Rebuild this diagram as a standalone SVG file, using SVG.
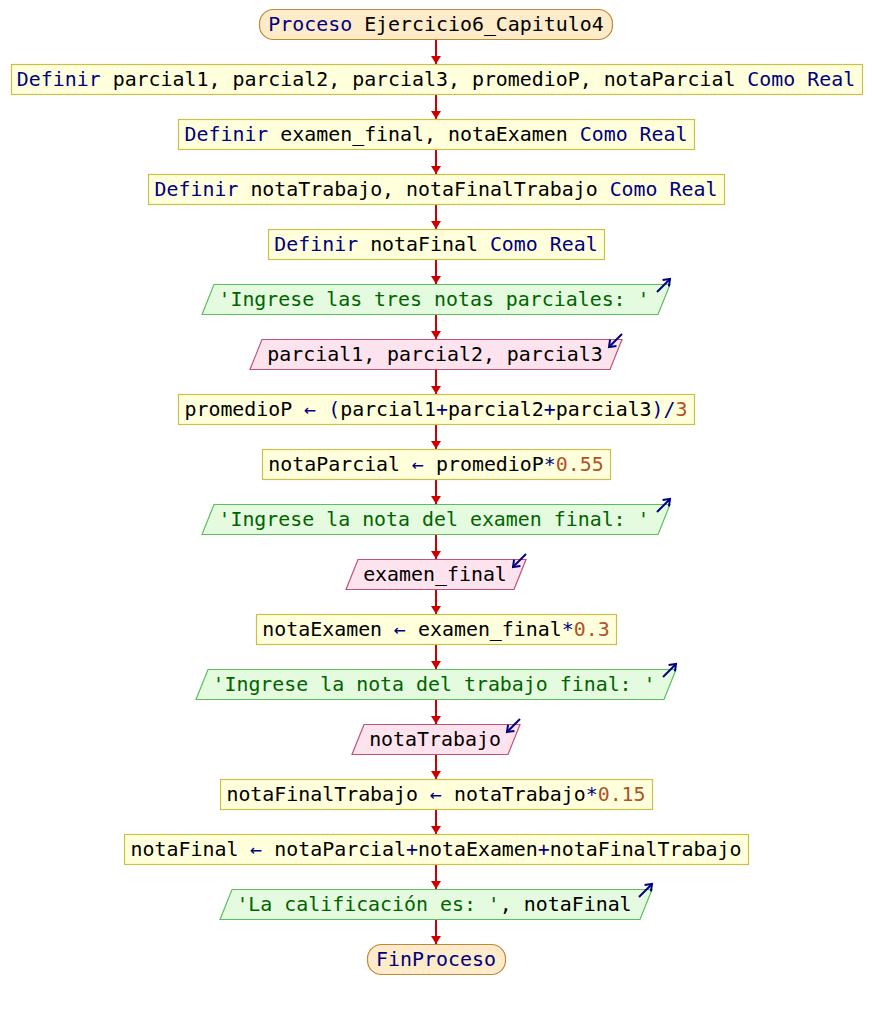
<svg xmlns="http://www.w3.org/2000/svg" width="872" height="1010" viewBox="0 0 872 1010">
  <style>
    text { font-family: "DejaVu Sans Mono", "Liberation Mono", monospace; font-size: 19.9px; fill: #000000; text-anchor: middle; white-space: pre; }
    .kw { fill: #000080; }
    .str { fill: #006400; }
    .num { fill: #b0522a; }
    .term { fill: #fdebc9; stroke: #c08838; stroke-width: 1.2; }
    .proc { fill: #ffffdc; stroke: #c8c048; stroke-width: 1.2; }
    .out { fill: #e4fbdf; stroke: #5cbf5c; stroke-width: 1.2; }
    .in { fill: #fde3ee; stroke: #c0507c; stroke-width: 1.2; }
    .icon { stroke: #000080; stroke-width: 2; fill: none; marker-end: url(#io); }
    .flow { stroke: #cc0000; stroke-width: 2; fill: none; marker-end: url(#ah); }
  </style>
  <defs>
    <marker id="ah" markerUnits="userSpaceOnUse" markerWidth="8" markerHeight="10" refX="8" refY="5" orient="auto">
      <path d="M0,0 L8,5 L0,10 z" fill="#cc0000"/>
    </marker>
    <marker id="io" markerUnits="userSpaceOnUse" markerWidth="10" markerHeight="10" refX="7" refY="5" orient="auto">
      <path d="M1,0.5 L7,5 L1,9.5" fill="none" stroke="#000080" stroke-width="2"/>
    </marker>
  </defs>
  <rect width="872" height="1010" fill="#ffffff"/>

  <!-- connectors -->
  <g id="connectors">
    <line class="flow" x1="436" y1="39" x2="436" y2="64"/>
    <line class="flow" x1="436" y1="94" x2="436" y2="119"/>
    <line class="flow" x1="436" y1="149" x2="436" y2="174"/>
    <line class="flow" x1="436" y1="204" x2="436" y2="229"/>
    <line class="flow" x1="436" y1="259" x2="436" y2="284"/>
    <line class="flow" x1="436" y1="314" x2="436" y2="339"/>
    <line class="flow" x1="436" y1="369" x2="436" y2="394"/>
    <line class="flow" x1="436" y1="424" x2="436" y2="449"/>
    <line class="flow" x1="436" y1="479" x2="436" y2="504"/>
    <line class="flow" x1="436" y1="534" x2="436" y2="559"/>
    <line class="flow" x1="436" y1="589" x2="436" y2="614"/>
    <line class="flow" x1="436" y1="644" x2="436" y2="669"/>
    <line class="flow" x1="436" y1="699" x2="436" y2="724"/>
    <line class="flow" x1="436" y1="754" x2="436" y2="779"/>
    <line class="flow" x1="436" y1="809" x2="436" y2="834"/>
    <line class="flow" x1="436" y1="864" x2="436" y2="889"/>
    <line class="flow" x1="436" y1="919" x2="436" y2="944"/>
  </g>

  <g id="n0">
    <rect class="term" x="259.5" y="9.5" width="353" height="30" rx="14"/>
    <text x="436" y="31"><tspan class="kw">Proceso</tspan> Ejercicio6_Capitulo4</text>
  </g>
  <g id="n1">
    <rect class="proc" x="11.5" y="64.5" width="851" height="30"/>
    <text x="436" y="86"><tspan class="kw">Definir</tspan> parcial1, parcial2, parcial3, promedioP, notaParcial <tspan class="kw">Como Real</tspan></text>
  </g>
  <g id="n2">
    <rect class="proc" x="178.5" y="119.5" width="516" height="30"/>
    <text x="436" y="141"><tspan class="kw">Definir</tspan> examen_final, notaExamen <tspan class="kw">Como Real</tspan></text>
  </g>
  <g id="n3">
    <rect class="proc" x="148.5" y="174.5" width="576" height="30"/>
    <text x="436" y="196"><tspan class="kw">Definir</tspan> notaTrabajo, notaFinalTrabajo <tspan class="kw">Como Real</tspan></text>
  </g>
  <g id="n4">
    <rect class="proc" x="268.5" y="229.5" width="336" height="30"/>
    <text x="436" y="251"><tspan class="kw">Definir</tspan> notaFinal <tspan class="kw">Como Real</tspan></text>
  </g>
  <g id="n5">
    <polygon class="out" points="214,284.5 670,284.5 658,314.5 202,314.5"/>
    <text x="434" y="306"><tspan class="str">'Ingrese las tres notas parciales: '</tspan></text>
    <line class="icon" x1="657" y1="292" x2="670" y2="279"/>
  </g>
  <g id="n6">
    <polygon class="in" points="262,339.5 622,339.5 610,369.5 250,369.5"/>
    <text x="435" y="361">parcial1, parcial2, parcial3</text>
    <line class="icon" x1="622" y1="334" x2="609" y2="347"/>
  </g>
  <g id="n7">
    <rect class="proc" x="178.5" y="394.5" width="516" height="30"/>
    <text x="436" y="416">promedioP <tspan class="kw">←</tspan> <tspan class="kw">(</tspan>parcial1<tspan class="kw">+</tspan>parcial2<tspan class="kw">+</tspan>parcial3<tspan class="kw">)/</tspan><tspan class="num">3</tspan></text>
  </g>
  <g id="n8">
    <rect class="proc" x="262.5" y="449.5" width="348" height="30"/>
    <text x="436" y="471">notaParcial <tspan class="kw">←</tspan> promedioP<tspan class="kw">*</tspan><tspan class="num">0.55</tspan></text>
  </g>
  <g id="n9">
    <polygon class="out" points="214,504.5 670,504.5 658,534.5 202,534.5"/>
    <text x="434" y="526"><tspan class="str">'Ingrese la nota del examen final: '</tspan></text>
    <line class="icon" x1="657" y1="512" x2="670" y2="499"/>
  </g>
  <g id="n10">
    <polygon class="in" points="358,559.5 526,559.5 514,589.5 346,589.5"/>
    <text x="435" y="581">examen_final</text>
    <line class="icon" x1="526" y1="554" x2="513" y2="567"/>
  </g>
  <g id="n11">
    <rect class="proc" x="256.5" y="614.5" width="360" height="30"/>
    <text x="436" y="636">notaExamen <tspan class="kw">←</tspan> examen_final<tspan class="kw">*</tspan><tspan class="num">0.3</tspan></text>
  </g>
  <g id="n12">
    <polygon class="out" points="208,669.5 676,669.5 664,699.5 196,699.5"/>
    <text x="434" y="691"><tspan class="str">'Ingrese la nota del trabajo final: '</tspan></text>
    <line class="icon" x1="663" y1="677" x2="676" y2="664"/>
  </g>
  <g id="n13">
    <polygon class="in" points="364,724.5 520,724.5 508,754.5 352,754.5"/>
    <text x="435" y="746">notaTrabajo</text>
    <line class="icon" x1="520" y1="719" x2="507" y2="732"/>
  </g>
  <g id="n14">
    <rect class="proc" x="220.5" y="779.5" width="432" height="30"/>
    <text x="436" y="801">notaFinalTrabajo <tspan class="kw">←</tspan> notaTrabajo<tspan class="kw">*</tspan><tspan class="num">0.15</tspan></text>
  </g>
  <g id="n15">
    <rect class="proc" x="124.5" y="834.5" width="624" height="30"/>
    <text x="436" y="856">notaFinal <tspan class="kw">←</tspan> notaParcial<tspan class="kw">+</tspan>notaExamen<tspan class="kw">+</tspan>notaFinalTrabajo</text>
  </g>
  <g id="n16">
    <polygon class="out" points="232,889.5 652,889.5 640,919.5 220,919.5"/>
    <text x="434" y="911"><tspan class="str">'La calificación es: '</tspan>, notaFinal</text>
    <line class="icon" x1="639" y1="897" x2="652" y2="884"/>
  </g>
  <g id="n17">
    <rect class="term" x="367.5" y="944.5" width="138" height="30" rx="14"/>
    <text x="436" y="966"><tspan class="kw">FinProceso</tspan></text>
  </g>
</svg>
